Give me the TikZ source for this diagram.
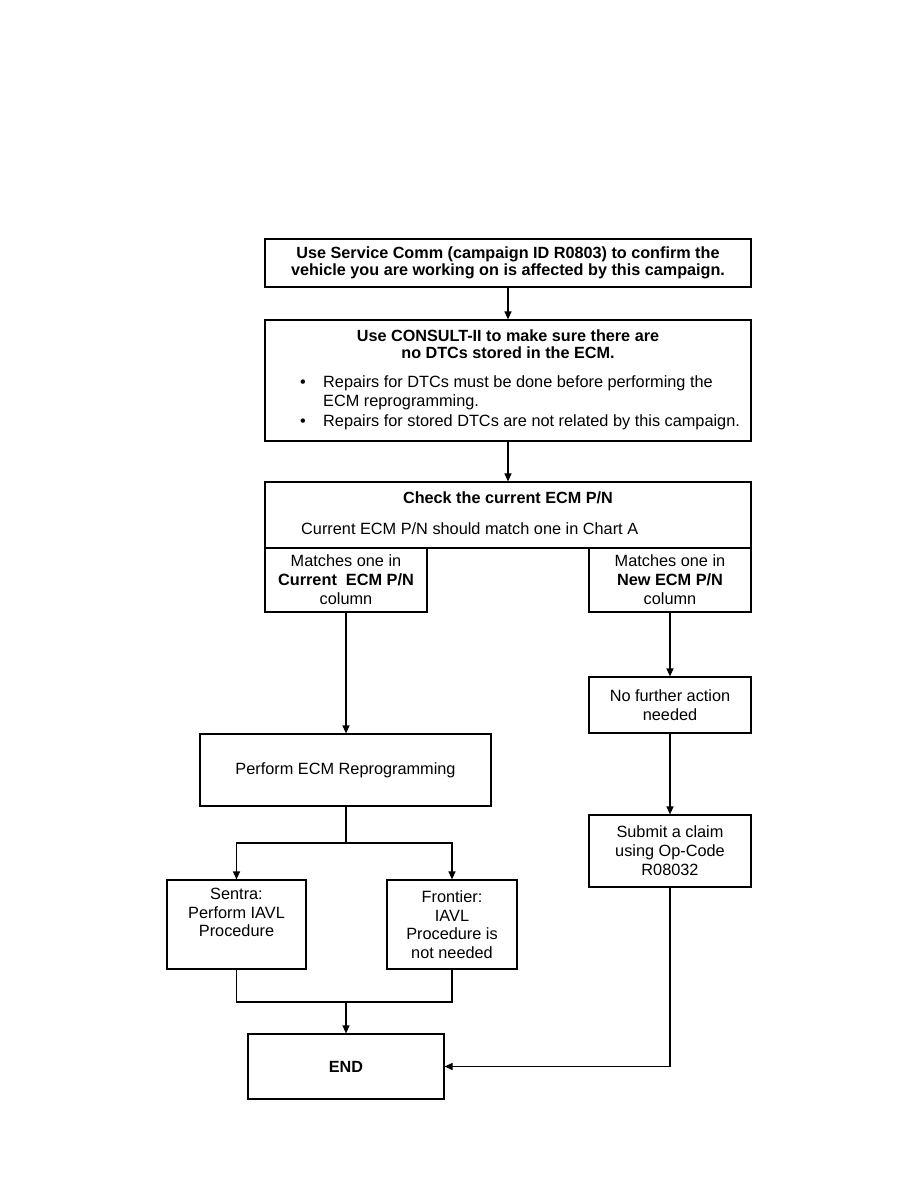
\documentclass[tikz,border=0pt]{standalone}
\usepackage{fontspec}
\setmainfont{Liberation Sans}
\usetikzlibrary{arrows.meta}
\begin{document}
\begin{tikzpicture}[x=1pt,y=-1pt,
  box/.style={draw=black, line width=1.2pt, inner sep=0pt, align=center, font=\fontsize{16.3}{19}\selectfont},
  txt/.style={inner sep=0pt, font=\fontsize{16.3}{19}\selectfont},
  boldtxt/.style={inner sep=0pt, font=\fontsize{16.2}{17}\selectfont\bfseries},
  arr/.style={line width=1.2pt, -{Triangle[length=8pt,width=7pt]}},
  ln/.style={line width=1.2pt}]
\useasboundingbox[fill=white] (0,0) rectangle (918,1188);

% boxes
\node[box, minimum width=486pt, minimum height=48pt, font=\fontsize{16.2}{16.5}\selectfont\bfseries] (b1) at (508,263)
  {Use Service Comm (campaign ID R0803) to confirm the\\vehicle you are working on is affected by this campaign.};
\node[box, minimum width=486pt, minimum height=121pt] (b2) at (508,380.5) {};
\node[box, minimum width=486pt, minimum height=66pt] (chk) at (508,515) {};
\node[box, minimum width=162pt, minimum height=64pt] (lsub) at (346,580)
  {Matches one in\\\textbf{Current\ \ ECM P/N}\\column};
\node[box, minimum width=162pt, minimum height=64pt] (rsub) at (670,580)
  {Matches one in\\\textbf{New ECM P/N}\\column};
\node[box, minimum width=162pt, minimum height=56pt] (noact) at (670,705)
  {No further action\\needed};
\node[box, minimum width=291pt, minimum height=72pt] (perf) at (345.5,770)
  {Perform ECM Reprogramming};
\node[box, minimum width=162pt, minimum height=72pt] (submit) at (670,851)
  {Submit a claim\\using Op-Code\\R08032};
\node[box, minimum width=139pt, minimum height=89pt] (sentra) at (236.5,924.5) {};
\node[box, minimum width=130pt, minimum height=89pt, font=\fontsize{16.3}{18.5}\selectfont] (frontier) at (452,924.5)
  {Frontier:\\IAVL\\Procedure is\\not needed};
\node[box, minimum width=196pt, minimum height=65pt, font=\fontsize{16.2}{17}\selectfont\bfseries] (end) at (346,1066.5) {END};

% texts in box 2
\node[boldtxt, anchor=base] (b2t1) at (508,341) {Use CONSULT-II to make sure there are};
\node[boldtxt, anchor=base] (b2t2) at (508,358) {no DTCs stored in the ECM.};
\node[txt, anchor=base] (bul1) at (303,387) {\textbullet};
\node[txt, anchor=base west] (b2t3) at (323,387) {Repairs for DTCs must be done before performing the};
\node[txt, anchor=base west] (b2t4) at (323,406) {ECM reprogramming.};
\node[txt, anchor=base] (bul2) at (303,426) {\textbullet};
\node[txt, anchor=base west] (b2t5) at (323,426) {Repairs for stored DTCs are not related by this campaign.};

% texts in check box
\node[boldtxt, anchor=base] (chkt1) at (508,503) {Check the current ECM P/N};
\node[txt, anchor=base west] (chkt2) at (301,534) {Current ECM P/N should match one in Chart A};

% sentra text
\node[txt, align=center, anchor=north, font=\fontsize{16.3}{18.5}\selectfont] (sentrat) at (236.5,888)
  {Sentra:\\Perform IAVL\\Procedure};

% connectors
\coordinate (split) at (346,843);
\coordinate (join) at (346,1002);
\draw[arr] (b1.south) -- (b2.north);
\draw[arr] (b2.south) -- (chk.north);
\draw[arr] (lsub.south) -- (lsub.south |- perf.north);
\draw[arr] (rsub.south) -- (noact.north);
\draw[arr] (noact.south) -- (submit.north);
\draw[ln] (lsub.south |- perf.south) -- (split);
\draw[arr] (split) -| (sentra.north);
\draw[arr] (split) -| (frontier.north);
\draw[ln] (sentra.south) |- (join) -| (frontier.south);
\draw[arr] (join) -- (end.north);
\draw[arr] (submit.south) |- (end.east);
\end{tikzpicture}
\end{document}
